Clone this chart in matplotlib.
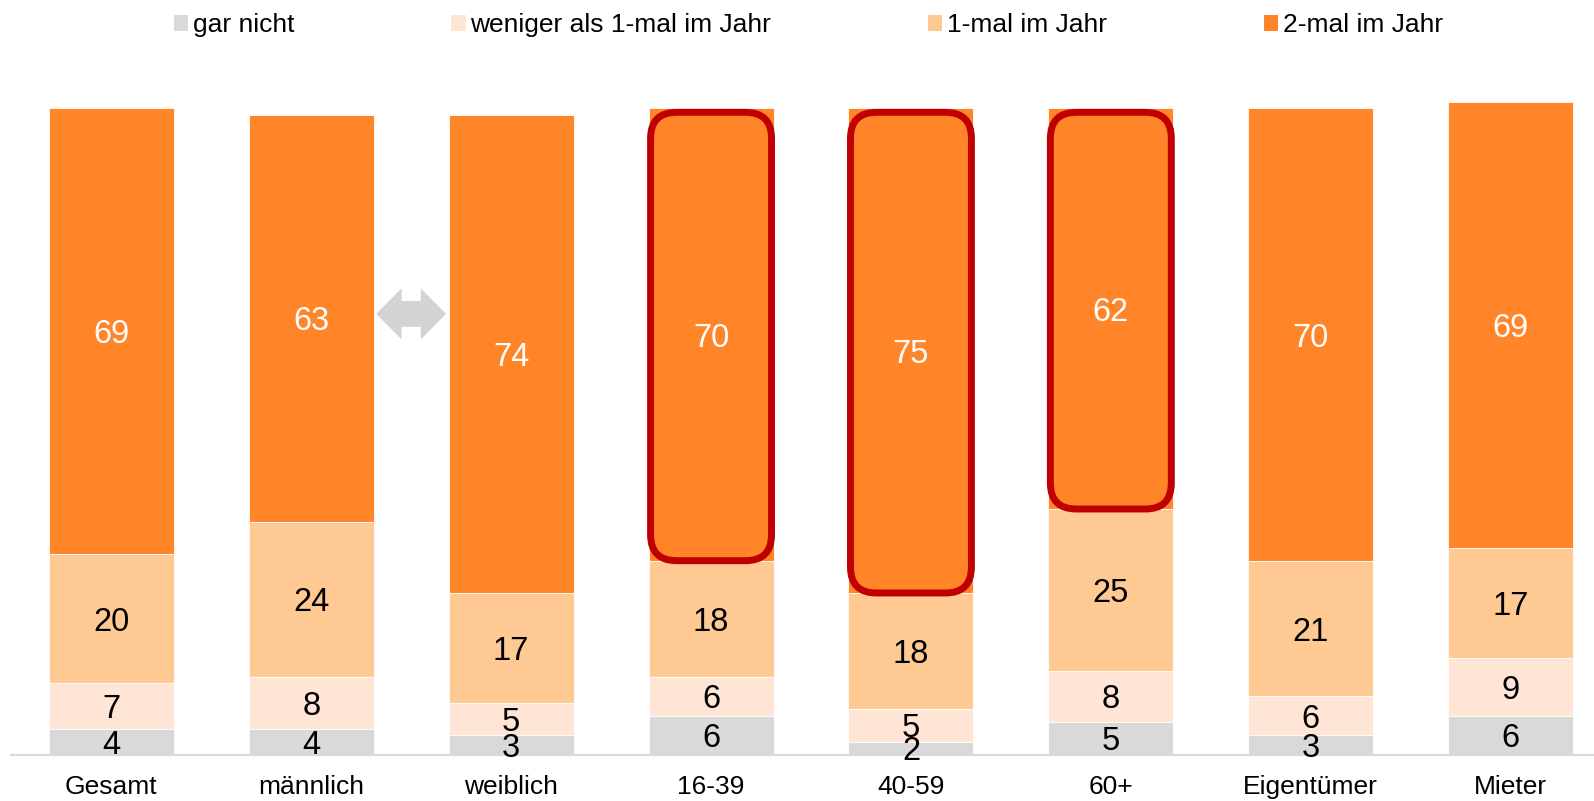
import matplotlib.pyplot as plt
from matplotlib.patches import Patch, FancyBboxPatch, Polygon

plt.rcParams['font.family'] = ['Liberation Sans', 'DejaVu Sans']

categories = ["Gesamt", "männlich", "weiblich", "16-39", "40-59", "60+", "Eigentümer", "Mieter"]
series_names = ["gar nicht", "weniger als 1-mal im Jahr", "1-mal im Jahr", "2-mal im Jahr"]
gar_nicht = [4, 4, 3, 6, 2, 5, 3, 6]
weniger = [7, 8, 5, 6, 5, 8, 6, 9]
einmal = [20, 24, 17, 18, 18, 25, 21, 17]
zweimal = [69, 63, 74, 70, 75, 62, 70, 69]
highlighted = [3, 4, 5]

colors = ["#D9D9D9", "#FFE5D5", "#FFC994", "#FF8528"]
text_colors = ["black", "black", "black", "white"]

fig = plt.figure(figsize=(15.94, 8.01), dpi=100)
ax = fig.add_axes([11 / 1594, 46.5 / 801, 1583 / 1594, (754.5 - 60) / 801])

x = list(range(len(categories)))
width = 0.625
bottoms = [0] * len(categories)
for vals, col, tcol in zip([gar_nicht, weniger, einmal, zweimal], colors, text_colors):
    ax.bar(x, vals, width, bottom=bottoms, color=col, edgecolor="white", linewidth=0.6, zorder=2)
    for i, v in enumerate(vals):
        ax.text(x[i], bottoms[i] + v / 2, str(v), ha="center", va="center_baseline",
                fontsize=23.5, color=tcol, zorder=5)
    bottoms = [b + v for b, v in zip(bottoms, vals)]

ax.set_xlim(-0.502, 7.417)
ax.set_ylim(0, 107.5)

# aspect between x and y units in pixels, for round corners
fig.canvas.draw()
p0 = ax.transData.transform((0, 0))
p1 = ax.transData.transform((1, 1))
aspect = (p1[0] - p0[0]) / (p1[1] - p0[1])

# red highlight boxes around the top segments
for i in highlighted:
    base = gar_nicht[i] + weniger[i] + einmal[i]
    box = FancyBboxPatch((x[i] - width / 2 + 0.01, base), width - 0.02, zweimal[i] - 0.6,
                         boxstyle="round,pad=0,rounding_size=0.13", mutation_aspect=aspect,
                         facecolor="none", edgecolor="#C00000", linewidth=5, zorder=4)
    ax.add_patch(box)

# grey double arrow between maennlich and weiblich
cx, cy = 1.5, 68.2
tip, hb, hh, sh = 0.175, 0.048, 3.95, 2.0
arrow = Polygon([(cx - tip, cy), (cx - hb, cy + hh), (cx - hb, cy + sh), (cx + hb, cy + sh),
                 (cx + hb, cy + hh), (cx + tip, cy), (cx + hb, cy - hh), (cx + hb, cy - sh),
                 (cx - hb, cy - sh), (cx - hb, cy - hh)],
                closed=True, facecolor="#D3D3D3", edgecolor="none", zorder=3)
ax.add_patch(arrow)

for s in ["top", "right", "left"]:
    ax.spines[s].set_visible(False)
ax.spines["bottom"].set_color("#D9D9D9")
ax.spines["bottom"].set_linewidth(1.5)
ax.set_yticks([])
ax.set_xticks(x, categories)
ax.tick_params(axis="x", length=0, pad=14.5, labelsize=19)

handles = [Patch(facecolor=c, edgecolor="none") for c in colors]
fig.legend(handles, series_names, loc="center left", bbox_to_anchor=(174 / 1594, 1 - 25 / 801),
           ncol=4, frameon=False, fontsize=19, handlelength=0.54, handleheight=0.54,
           handletextpad=0.19, columnspacing=5.93, borderpad=0, borderaxespad=0)

plt.savefig("out.png", dpi=100)
